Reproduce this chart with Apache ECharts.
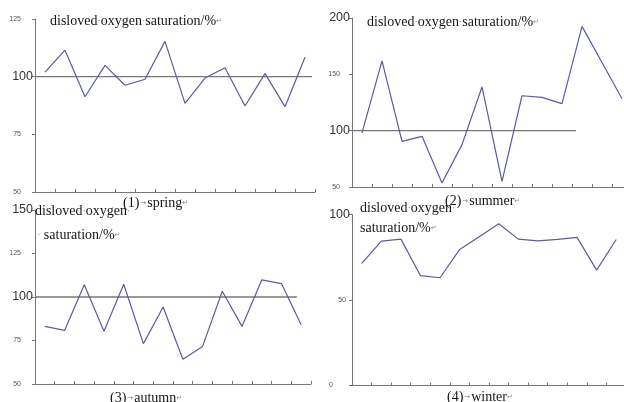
<!DOCTYPE html>
<html><head><meta charset="utf-8">
<script src="https://cdn.jsdelivr.net/npm/echarts@6/dist/echarts.min.js"></script>
<style>html,body{margin:0;padding:0;background:#fff;overflow:hidden}#c{width:640px;height:402px}</style>
</head><body><div id="c"></div>
<script>
const categories = [1,2,3,4,5,6,7,8,9,10,11,12,13,14];
const spring = [102, 111.5, 91.3, 104.9, 96.3, 98.9, 115.3, 88.4, 99.4, 103.9, 87.3, 101.3, 87, 108.4];
const summer = [98, 162, 90.5, 95, 53.5, 87.6, 138.8, 55, 131, 129.6, 124, 192.6, 160.5, 128.4];
const autumn = [83.1, 80.8, 107.1, 80.3, 107.3, 73.2, 94.3, 64.2, 71.6, 103.3, 83.1, 109.8, 107.7, 84.1];
const winter = [71.4, 84.4, 85.6, 64.2, 63, 79.6, 87, 94.6, 85.6, 84.6, 85.4, 86.6, 67.5, 85.4];
const refValue = 100;
const refEnds = [13.85, 11.2, 13.28]; // reference-line extent in category units
const yMin = [50, 50, 50, 0], yMax = [125, 200, 150, 100], yStep = [25, 50, 25, 50];
const bigLabels = [[100], [200, 100], [150, 100], [100]];
const titleText = '{t|disloved}{d|·}{t|oxygen}{d|·}{t|saturation/%}{r|↵}';
const captions = ['(1)', 'spring', '(2)', 'summer', '(3)', 'autumn', '(4)', 'winter'];

const chart = echarts.init(document.getElementById('c'));
const serif = "'Liberation Serif','Times New Roman',serif";
const sans = "'Liberation Sans',Arial,sans-serif";
const lineColor = '#5b5ba3';
const axisColor = '#777';
const grids = [
  {left: 35, top: 19, width: 280, height: 173},
  {left: 352, top: 18, width: 280, height: 169},
  {left: 35, top: 210, width: 276, height: 174},
  {left: 352, top: 214.5, width: 274, height: 171}
];
const smallPad = [12, 10, 12, 4];
const seriesData = [spring, summer, autumn, winter];

const xAxis = [], yAxis = [], series = [];
for (let i = 0; i < 4; i++) {
  xAxis.push({type: 'category', gridIndex: i, data: categories, boundaryGap: true,
    axisLine: {lineStyle: {color: axisColor, width: 1}},
    axisTick: {show: true, interval: 0, inside: true, length: 3, lineStyle: {color: axisColor}},
    axisLabel: {show: false, interval: 0}, splitLine: {show: false}});
  const big = bigLabels[i], pad = smallPad[i];
  yAxis.push({type: 'value', gridIndex: i, min: yMin[i], max: yMax[i], interval: yStep[i],
    axisLine: {show: true, lineStyle: {color: axisColor, width: 1}},
    axisTick: {show: true, length: 3, lineStyle: {color: axisColor}},
    splitLine: {show: false},
    axisLabel: {margin: 2,
      formatter: v => big.includes(v) ? '{b|' + v + '}' : (v === 0 ? '{z|' + v + '}' : '{s|' + v + '}'),
      rich: {
        b: {fontFamily: sans, fontSize: 12.5, color: '#333'},
        s: {fontFamily: sans, fontSize: 7, color: '#555', padding: [0, pad, 0, 0]},
        z: {fontFamily: sans, fontSize: 7, color: '#555', padding: [0, 17, 0, 0]}
      }}});
  series.push({type: 'line', xAxisIndex: i, yAxisIndex: i, data: seriesData[i],
    symbol: 'none', lineStyle: {color: lineColor, width: 1.2}, animation: false, silent: true});
}
for (let i = 0; i < 3; i++) {
  xAxis.push({type: 'value', gridIndex: i, min: 0, max: 14, show: false});
  series.push({type: 'line', xAxisIndex: 4 + i, yAxisIndex: i,
    data: [[0, refValue], [refEnds[i], refValue]], symbol: 'none',
    lineStyle: {color: '#777', width: 1.3}, animation: false, silent: true, z: 1});
}

const rich = {
  t: {fontFamily: serif, fontSize: 14, color: '#151515', lineHeight: 16},
  d: {fontFamily: serif, fontSize: 10, color: '#888', lineHeight: 16},
  r: {fontFamily: "'DejaVu Sans',sans-serif", fontSize: 7, color: '#888', lineHeight: 16},
  a: {fontFamily: "'DejaVu Sans',sans-serif", fontSize: 7, color: '#777', lineHeight: 16, padding: [0, 1, 0, 1]}
};
function T(text, left, top) {
  return {text: text, left: left, top: top, padding: 0, itemGap: 0,
    textStyle: {fontFamily: serif, fontSize: 14, fontWeight: 'normal', color: '#151515', rich: rich}};
}
function cap(k) { return '{t|' + captions[2*k] + '}{a|→}{t|' + captions[2*k+1] + '}{r|↵}'; }
const title = [
  T(titleText, 50, 13),
  T(titleText, 367, 14),
  T('{t|disloved}{d|·}{t|oxygen}{d|·}', 35, 203),
  T('{d|·} {t|saturation/%}{r|↵}', 37, 227),
  T('{t|disloved}{d|·}{t|oxygen}{d|·}', 360, 200),
  T('{t|saturation/%}{r|↵}', 360, 220),
  T(cap(0), 123, 195),
  T(cap(1), 445, 193),
  T(cap(2), 110, 390),
  T(cap(3), 447, 389)
];

chart.setOption({backgroundColor: '#fff', animation: false, grid: grids, xAxis: xAxis, yAxis: yAxis, series: series, title: title});
</script></body></html>
